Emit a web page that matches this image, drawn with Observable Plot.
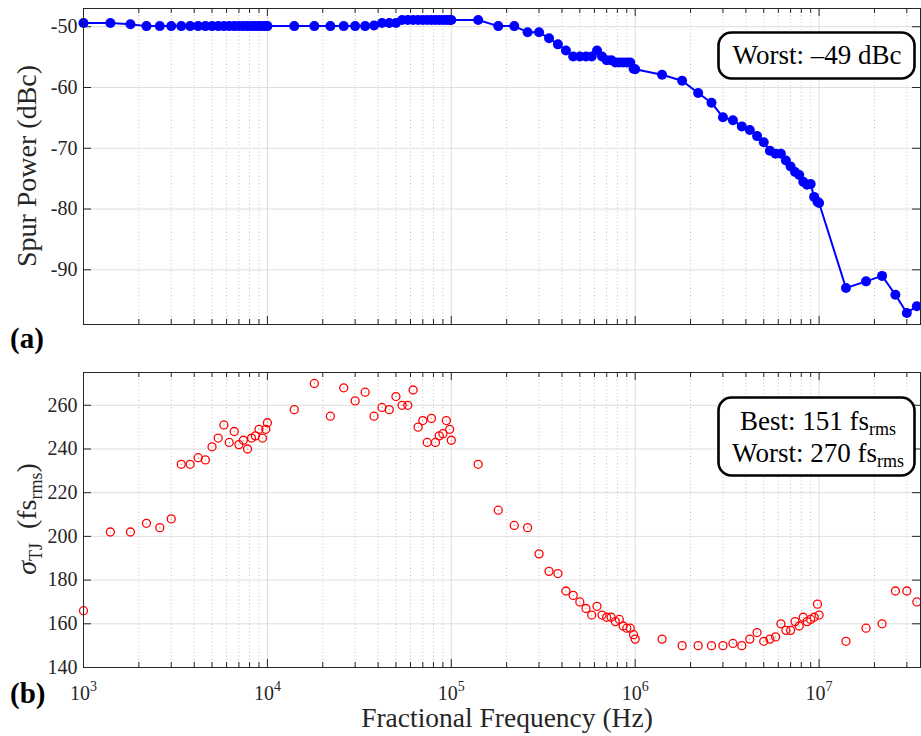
<!DOCTYPE html>
<html><head><meta charset="utf-8">
<script src="https://cdn.jsdelivr.net/npm/d3@7"></script>
<script src="https://cdn.jsdelivr.net/npm/@observablehq/plot@0.6"></script>
<style>
html,body{margin:0;padding:0;background:#fff;}
#chart{width:921px;height:736px;position:relative;overflow:hidden;}
#chart svg{display:block;}
</style></head><body><div id="chart"></div>
<script>
// ---------- data ----------
const freqHz = [
  1000,1400,1800,2200,2600,3000,3400,3800,4200,4600,5000,5400,5800,6200,6600,7000,7400,7800,8200,8600,9000,9400,9800,10000,
  14000,18000,22000,26000,30000,34000,38000,42000,46000,50000,54000,58000,62000,66000,70000,74000,78000,82000,86000,90000,94000,98000,100000,
  140000,180000,220000,260000,300000,340000,380000,420000,460000,500000,540000,580000,620000,660000,700000,740000,780000,820000,860000,900000,940000,980000,1000000,
  1400000,1800000,2200000,2600000,3000000,3400000,3800000,4200000,4600000,5000000,5400000,5800000,6200000,6600000,7000000,7400000,7800000,8200000,8600000,9000000,9400000,9800000,10000000,
  14000000,18000000,22000000,26000000,30000000,34000000,38000000
];
const spurDbc = [
  -49.4,-49.4,-49.6,-49.9,-49.9,-49.9,-49.9,-49.9,-49.9,-49.9,-49.9,-49.9,-49.9,-49.9,-49.9,-49.9,-49.9,-49.9,-49.9,-49.9,-49.9,-49.9,-49.9,-49.9,
  -49.9,-49.9,-49.9,-49.9,-49.9,-49.9,-49.8,-49.4,-49.4,-49.4,-48.9,-48.9,-48.9,-48.9,-48.9,-48.9,-48.9,-48.9,-48.9,-48.9,-48.9,-48.9,-48.9,
  -48.9,-49.9,-49.9,-50.9,-50.9,-51.9,-52.9,-53.9,-54.9,-54.9,-54.9,-54.9,-53.9,-54.9,-55.5,-55.5,-55.9,-55.9,-55.9,-55.9,-55.9,-56.9,-57.0,
  -57.9,-58.9,-60.9,-62.5,-64.9,-65.4,-66.4,-67.0,-68.0,-69.0,-70.4,-70.9,-70.9,-72.0,-73.0,-73.9,-74.4,-75.5,-76.0,-75.9,-78.0,-78.8,-79.0,
  -93.0,-91.9,-91.0,-94.1,-97.1,-96.0,-96.0
];
const jitterFs = [
  166,202,202,206,204,208,233,233,236,235,241,245,251,243,248,242,244,240,245,246,249,245,249,252,
  258,270,255,268,262,266,255,259,258,264,260,260,267,250,253,243,254,243,246,247,253,249,244,
  233,212,205,204,192,184,183,175,173,170,167,164,168,164,163,163,161,162,159,158,158,155,153,
  153,150,150,150,150,151,150,153,156,152,153,154,160,157,157,161,159,163,161,162,163,169,164,
  152,158,160,175,175,170,175
];
const majorTicks = [1e3,1e4,1e5,1e6,1e7];
const minorTicks = [2e3,3e3,4e3,5e3,6e3,7e3,8e3,9e3,2e4,3e4,4e4,5e4,6e4,7e4,8e4,9e4,
  2e5,3e5,4e5,5e5,6e5,7e5,8e5,9e5,2e6,3e6,4e6,5e6,6e6,7e6,8e6,9e6,2e7,3e7];
const spurTicks = [-90,-80,-70,-60,-50];
const jitterTicks = [140,160,180,200,220,240,260];
const spurNote = "Worst: \u201349 dBc";
const jitterNote = [["Best: 151 fs","rms"],["Worst: 270 fs","rms"]];

// ---------- layout ----------
const W = 921, ML = 83, MR = 1;
const frameW = W - ML - MR;
const xDomain = [1e3, 3.56e7];
const FONT = "'Liberation Serif','Times New Roman',serif";
const INK = "#262626";
const GRID = "#dedede";
const baseStyle = {fontFamily: FONT, fontSize: "20px", color: INK, background: "#fff", overflow: "visible"};

function frameMarks(yTicks, frameH) {
  return [
    Plot.ruleX(minorTicks, {stroke: "#c4c4c4", strokeDasharray: "1,2.5"}),
    Plot.ruleX(majorTicks, {stroke: GRID}),
    Plot.ruleY(yTicks, {stroke: GRID}),
    Plot.tickX(majorTicks, {stroke: INK, insetTop: frameH - 8}),
    Plot.tickX(minorTicks, {stroke: INK, insetTop: frameH - 5}),
    Plot.tickX(majorTicks, {stroke: INK, insetBottom: frameH - 8}),
    Plot.tickX(minorTicks, {stroke: INK, insetBottom: frameH - 5}),
    Plot.tickY(yTicks, {stroke: INK, insetRight: frameW - 8}),
    Plot.tickY(yTicks, {stroke: INK, insetLeft: frameW - 8}),
    Plot.axisY(yTicks, {anchor: "left", tickSize: 0, tickPadding: 6, tickFormat: d => String(d), label: null})
  ];
}

// ---------- panel (a) ----------
const spurData = freqHz.map((f, i) => ({f, v: spurDbc[i]}));
const topH = 356, topMT = 8, topMB = 32;
const topPlot = Plot.plot({
  width: W, height: topH, marginLeft: ML, marginRight: MR, marginTop: topMT, marginBottom: topMB,
  style: baseStyle,
  x: {type: "log", domain: xDomain, axis: null},
  y: {domain: [-99, -47]},
  marks: [
    ...frameMarks(spurTicks, topH - topMT - topMB),
    Plot.line(spurData, {x: "f", y: "v", stroke: "#0000ff", strokeWidth: 2}),
    Plot.dot(spurData, {x: "f", y: "v", r: 5, fill: "#0000ff", stroke: "none"}),
    Plot.frame({stroke: INK})
  ]
});

// ---------- panel (b) ----------
const jitData = freqHz.map((f, i) => ({f, v: jitterFs[i]}));
const botH = 380, botMT = 16, botMB = 69;
const botPlot = Plot.plot({
  width: W, height: botH, marginLeft: ML, marginRight: MR, marginTop: botMT, marginBottom: botMB,
  style: baseStyle,
  x: {type: "log", domain: xDomain},
  y: {domain: [140, 275]},
  marks: [
    ...frameMarks(jitterTicks, botH - botMT - botMB),
    Plot.dot(jitData, {x: "f", y: "v", r: 4, fill: "none", stroke: "#ff0000", strokeWidth: 1.3}),
    Plot.dot(jitData, {x: "f", y: "v", r: 0.6, fill: "#e07070", stroke: "none"}),
    Plot.axisX(majorTicks, {anchor: "bottom", tickSize: 0, tickPadding: 18, label: null,
      tickFormat: d => String(Math.round(Math.log10(d)))}),
    Plot.frame({stroke: INK})
  ]
});

const chart = document.getElementById("chart");
chart.appendChild(topPlot);
chart.appendChild(botPlot);

// ---------- text decorations ----------
const ts = d3.select(topPlot), bs = d3.select(botPlot);

// superscript decade labels
bs.selectAll('[aria-label="x-axis tick label"] text').each(function() {
  const e = this.textContent;
  const t = d3.select(this);
  t.text("");
  t.append("tspan").text("10");
  t.append("tspan").attr("dy", -9).attr("font-size", 14).text(e);
});

// axis titles
ts.append("text").attr("transform", "translate(36,166) rotate(-90)")
  .attr("text-anchor", "middle").attr("font-size", 28).attr("fill", INK)
  .text("Spur Power (dBc)");

const yl = bs.append("text").attr("transform", `translate(36,${519 - 356}) rotate(-90)`)
  .attr("text-anchor", "middle").attr("font-size", 28).attr("fill", INK);
yl.append("tspan").attr("font-style", "italic").text("\u03c3");
yl.append("tspan").attr("font-size", 18).attr("dy", 6).text("TJ");
yl.append("tspan").attr("dy", -6).text("\u2002(fs");
yl.append("tspan").attr("font-size", 18).attr("dy", 6).text("rms");
yl.append("tspan").attr("dy", -6).text(")");

bs.append("text").attr("x", 507).attr("y", 727 - 356)
  .attr("text-anchor", "middle").attr("font-size", 27.5).attr("fill", INK)
  .text("Fractional Frequency (Hz)");

// panel letters
ts.append("text").attr("x", 10).attr("y", 348).attr("text-anchor", "start")
  .attr("font-size", 29).attr("font-weight", "bold").attr("fill", "#000").text("(a)");
bs.append("text").attr("x", 10).attr("y", 703 - 356).attr("text-anchor", "start")
  .attr("font-size", 29).attr("font-weight", "bold").attr("fill", "#000").text("(b)");

// annotation boxes
ts.append("rect").attr("x", 718.5).attr("y", 32.5).attr("width", 196).attr("height", 46)
  .attr("rx", 13).attr("fill", "#fff").attr("stroke", "#000").attr("stroke-width", 2.6);
ts.append("text").attr("x", 817).attr("y", 63.5).attr("text-anchor", "middle")
  .attr("font-size", 27).attr("fill", "#000").text(spurNote);

bs.append("rect").attr("x", 718.5).attr("y", 41.5).attr("width", 196).attr("height", 78)
  .attr("rx", 13).attr("fill", "#fff").attr("stroke", "#000").attr("stroke-width", 2.6);
jitterNote.forEach((ln, i) => {
  const t = bs.append("text").attr("x", 818).attr("y", 74 + i * 32).attr("text-anchor", "middle")
    .attr("font-size", 27).attr("fill", "#000");
  t.append("tspan").text(ln[0]);
  t.append("tspan").attr("font-size", 18).attr("dy", 5).text(ln[1]);
});
</script></body></html>
